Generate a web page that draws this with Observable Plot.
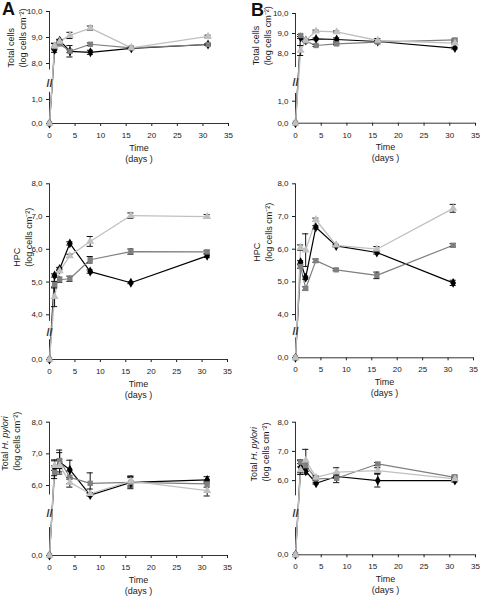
<!DOCTYPE html>
<html><head><meta charset="utf-8">
<script src="https://cdn.jsdelivr.net/npm/d3@7"></script>
<script src="https://cdn.jsdelivr.net/npm/@observablehq/plot@0.6"></script>
<style>
html,body{margin:0;padding:0;background:#fff;}
#chart{position:relative;width:480px;height:596px;overflow:hidden;font-family:"Liberation Sans",Arial,sans-serif;}
#chart svg{position:absolute;left:0;top:0;}
.letter{position:absolute;font-weight:bold;font-size:18px;line-height:1;color:#111;}
</style></head><body>
<div id="chart"></div>
<script>
// ---- data ----
const days = [0, 1, 2, 4, 8, 16, 31];
const seriesKeys = ["S1", "S2", "S3"];
const xTicks = [0, 5, 10, 15, 20, 25, 30, 35];

// A – Total cells
const totalA_s1 = [0, 8.53, 8.88, 8.47, 8.43, 8.58, 8.73];
const totalA_s2 = [0, 8.65, 8.75, 8.47, 8.74, 8.60, 8.73];
const totalA_s3 = [0, 8.68, 8.85, 9.08, 9.36, 8.60, 9.04];
const totalA_e1 = [0, 0.10, 0.05, 0.05, 0.08, 0.02, 0.03];
const totalA_e2 = [0, 0.12, 0.05, 0.22, 0.05, 0.02, 0.03];
const totalA_e3 = [0, 0.10, 0.05, 0.12, 0.08, 0.03, 0.05];
// B – Total cells
const totalB_s1 = [0, 8.80, 8.65, 8.73, 8.70, 8.60, 8.27];
const totalB_s2 = [0, 8.90, 8.62, 8.40, 8.48, 8.57, 8.68];
const totalB_s3 = [0, 8.15, 8.65, 9.12, 9.08, 8.65, 8.52];
const totalB_e1 = [0, 0.05, 0.05, 0.05, 0.08, 0.05, 0.05];
const totalB_e2 = [0, 0.05, 0.05, 0.05, 0.05, 0.05, 0.05];
const totalB_e3 = [0, 0.25, 0.05, 0.05, 0.05, 0.10, 0.05];
// A – HPC
const hpcA_s1 = [0, 5.20, 5.40, 6.18, 5.32, 4.98, 5.80];
const hpcA_s2 = [0, 4.92, 5.07, 5.10, 5.68, 5.93, 5.92];
const hpcA_s3 = [0, 4.55, 5.34, 5.80, 6.24, 7.03, 7.00];
const hpcA_e1 = [0, 0.05, 0.05, 0.05, 0.05, 0.03, 0.05];
const hpcA_e2 = [0, 0.10, 0.08, 0.08, 0.10, 0.08, 0.05];
const hpcA_e3 = [0, 0.30, 0.05, 0.05, 0.15, 0.08, 0.06];
// B – HPC
const hpcB_s1 = [0, 5.60, 5.13, 6.67, 6.10, 5.90, 4.97];
const hpcB_s2 = [0, 5.47, 4.80, 5.65, 5.37, 5.20, 6.12];
const hpcB_s3 = [0, 6.05, 5.97, 6.90, 6.12, 6.00, 7.25];
const hpcB_e1 = [0, 0.05, 0.05, 0.05, 0.03, 0.05, 0.08];
const hpcB_e2 = [0, 0.05, 0.05, 0.05, 0.03, 0.10, 0.05];
const hpcB_e3 = [0, 0.08, 0.50, 0.05, 0.03, 0.08, 0.12];
// A – Total H. pylori
const hpA_s1 = [0, 6.56, 6.74, 6.50, 5.68, 6.10, 6.18];
const hpA_s2 = [0, 6.42, 6.79, 6.26, 6.07, 6.10, 6.05];
const hpA_s3 = [0, 6.63, 6.63, 6.10, 5.74, 6.14, 5.84];
const hpA_e1 = [0, 0.25, 0.38, 0.30, 0.10, 0.20, 0.10];
const hpA_e2 = [0, 0.20, 0.25, 0.20, 0.33, 0.15, 0.10];
const hpA_e3 = [0, 0.15, 0.20, 0.15, 0.15, 0.15, 0.28];
// B – Total H. pylori
const hpB_s1 = [0, 6.46, 6.32, 5.91, 6.14, 6.00, 6.00];
const hpB_s2 = [0, 6.63, 6.51, 6.06, 6.08, 6.57, 6.11];
const hpB_s3 = [0, 6.37, 6.69, 6.11, 6.29, 6.34, 6.06];
const hpB_e1 = [0, 0.25, 0.10, 0.03, 0.05, 0.22, 0.05];
const hpB_e2 = [0, 0.05, 0.10, 0.05, 0.15, 0.05, 0.08];
const hpB_e3 = [0, 0.10, 0.38, 0.05, 0.15, 0.10, 0.05];

const labelTotal = "Total cells\n(log cells cm\u207B\u00B2)";
const labelHPC = "HPC\n(log cells cm\u207B\u00B2)";
const labelHP = "Total H. pylori\n(log cells cm\u207B\u00B2)";
const labelTime = "Time\n(days )";

// ---- layout (pixels) ----
const W = 480, H = 596;
const colors = ["#000000", "#7f7f7f", "#c0c0c0"];
const symbols = ["diamond", "square", "triangle"];

const panels = [
  {values: [totalA_s1, totalA_s2, totalA_s3], errors: [totalA_e1, totalA_e2, totalA_e3], ylabel: labelTotal,
   x0: 49, x35: 228, px0: 123, lowUnit: 24, lowTop: 1.3, pxTop: 11, top: 10, upUnit: 26, upBottom: 7.75,
   ticks: [0, 1, 8, 9, 10], ldx: -33, ldy: 0},
  {values: [totalB_s1, totalB_s2, totalB_s3], errors: [totalB_e1, totalB_e2, totalB_e3], ylabel: labelTotal,
   x0: 295, x35: 475, px0: 122.7, lowUnit: 22, lowTop: 1.35, pxTop: 13, top: 10, upUnit: 20, upBottom: 7.3,
   ticks: [0, 1, 8, 9, 10], ldx: -34, ldy: -3},
  {values: [hpcA_s1, hpcA_s2, hpcA_s3], errors: [hpcA_e1, hpcA_e2, hpcA_e3], ylabel: labelHPC,
   x0: 49, x35: 227, px0: 359, lowUnit: 33, lowTop: 0.6, pxTop: 183.3, top: 8, upUnit: 32.75, upBottom: 3.8,
   ticks: [0, 4, 5, 6, 7, 8], ldx: -27.5, ldy: -5},
  {values: [hpcB_s1, hpcB_s2, hpcB_s3], errors: [hpcB_e1, hpcB_e2, hpcB_e3], ylabel: labelHPC,
   x0: 295, x35: 473, px0: 357.3, lowUnit: 33, lowTop: 0.6, pxTop: 183.3, top: 8, upUnit: 32.7, upBottom: 3.8,
   ticks: [0, 4, 5, 6, 7, 8], ldx: -33.5, ldy: -9},
  {values: [hpA_s1, hpA_s2, hpA_s3], errors: [hpA_e1, hpA_e2, hpA_e3], ylabel: labelHP,
   x0: 49, x35: 227, px0: 555, lowUnit: 31.67, lowTop: 0.88, pxTop: 421.7, top: 8, upUnit: 31.67, upBottom: 5.7,
   ticks: [0, 6, 7, 8], ldx: -39.5, ldy: -18},
  {values: [hpB_s1, hpB_s2, hpB_s3], errors: [hpB_e1, hpB_e2, hpB_e3], ylabel: labelHP,
   x0: 295, x35: 475, px0: 554.3, lowUnit: 29.2, lowTop: 0.93, pxTop: 421.7, top: 8, upUnit: 29.2, upBottom: 5.48,
   ticks: [0, 6, 7, 8], ldx: -36.5, ldy: -7}
];

const fmt = d => d.toFixed(1).replace(".", ",");
const chart = document.getElementById("chart");
const FONT = "'Liberation Sans', Arial, sans-serif";

function decorate(svg) {
  svg.querySelectorAll("text, tspan").forEach(el => {
    if (el.children.length) return;
    const t = el.textContent;
    const i = t.indexOf("H. pylori");
    if (i >= 0) {
      el.textContent = t.slice(0, i);
      const it = document.createElementNS("http://www.w3.org/2000/svg", "tspan");
      it.setAttribute("font-style", "italic");
      it.textContent = "H. pylori";
      el.append(it);
    }
  });
}

panels.forEach(p => {
  const rows = [];
  p.values.forEach((vals, si) => vals.forEach((v, i) => rows.push({
    series: seriesKeys[si], day: days[i], value: v, err: p.errors[si][i]
  })));
  const errRows = rows.filter(d => d.err > 0 && d.day > 0);
  const yRange = [p.px0, p.px0 - p.lowTop * p.lowUnit, p.pxTop + (p.top - p.upBottom) * p.upUnit, p.pxTop];

  const svg = Plot.plot({
    width: W, height: H,
    marginLeft: p.x0, marginRight: W - p.x35, marginTop: p.pxTop, marginBottom: H - p.px0,
    style: {background: "transparent", fontFamily: FONT, fontSize: "8px", color: "#1a1a1a", overflow: "visible"},
    x: {domain: [0, 35], ticks: xTicks, tickSize: 3, tickPadding: 6, tickFormat: d => String(d), label: null},
    y: {type: "linear", domain: [0, p.lowTop, p.upBottom, p.top], range: yRange,
        ticks: p.ticks, tickSize: 3, tickPadding: 4, tickFormat: fmt, label: null},
    color: {domain: seriesKeys, range: colors},
    symbol: {domain: seriesKeys, range: symbols},
    marks: [
      // axis lines (broken y axis)
      Plot.ruleY([0], {x1: 0, x2: 35, stroke: "#333", strokeWidth: 1}),
      Plot.ruleX([{a: p.upBottom, b: p.top}, {a: 0, b: p.lowTop}], {x: () => 0, y1: "a", y2: "b", stroke: "#333", strokeWidth: 1}),
      // series lines
      Plot.line(rows.filter(d => d.series === "S1"), {x: "day", y: "value", stroke: "series", strokeWidth: 1.2}),
      Plot.line(rows.filter(d => d.series === "S2"), {x: "day", y: "value", stroke: "series", strokeWidth: 1.2}),
      Plot.line(rows.filter(d => d.series === "S3"), {x: "day", y: "value", stroke: "series", strokeWidth: 1.3}),
      // break mark
      Plot.text(["//"], {x: () => 0, y: () => (p.lowTop + p.upBottom) / 2, dy: 2, fontSize: 11, fontWeight: "bold", fill: "#333"}),
      // error bars
      Plot.ruleX(errRows, {x: "day", y1: d => d.value - d.err, y2: d => d.value + d.err, stroke: "#111", strokeWidth: 1}),
      Plot.ruleY(errRows, {y: d => d.value - d.err, x1: d => d.day - 0.6, x2: d => d.day + 0.6, stroke: "#111", strokeWidth: 1}),
      Plot.ruleY(errRows, {y: d => d.value + d.err, x1: d => d.day - 0.6, x2: d => d.day + 0.6, stroke: "#111", strokeWidth: 1}),
      // markers
      Plot.dot(rows, {x: "day", y: "value", fill: "series", symbol: "series", r: 3}),
      // axis titles
      Plot.text([labelTime], {frameAnchor: "bottom", lineAnchor: "top", dy: 19, fontSize: 9, lineHeight: 1.25, fill: "#1a1a1a"}),
      Plot.text([p.ylabel], {frameAnchor: "left", rotate: -90, dx: p.ldx, dy: p.ldy, fontSize: 9, lineHeight: 1.33, fill: "#1a1a1a"})
    ]
  });
  decorate(svg);
  chart.appendChild(svg);
});

["A", "B"].forEach((t, i) => {
  const d = document.createElement("div");
  d.className = "letter";
  d.textContent = t;
  d.style.left = (i === 0 ? 2 : 251) + "px";
  d.style.top = (i === 0 ? 0 : 1) + "px";
  chart.appendChild(d);
});
</script>
</body></html>
